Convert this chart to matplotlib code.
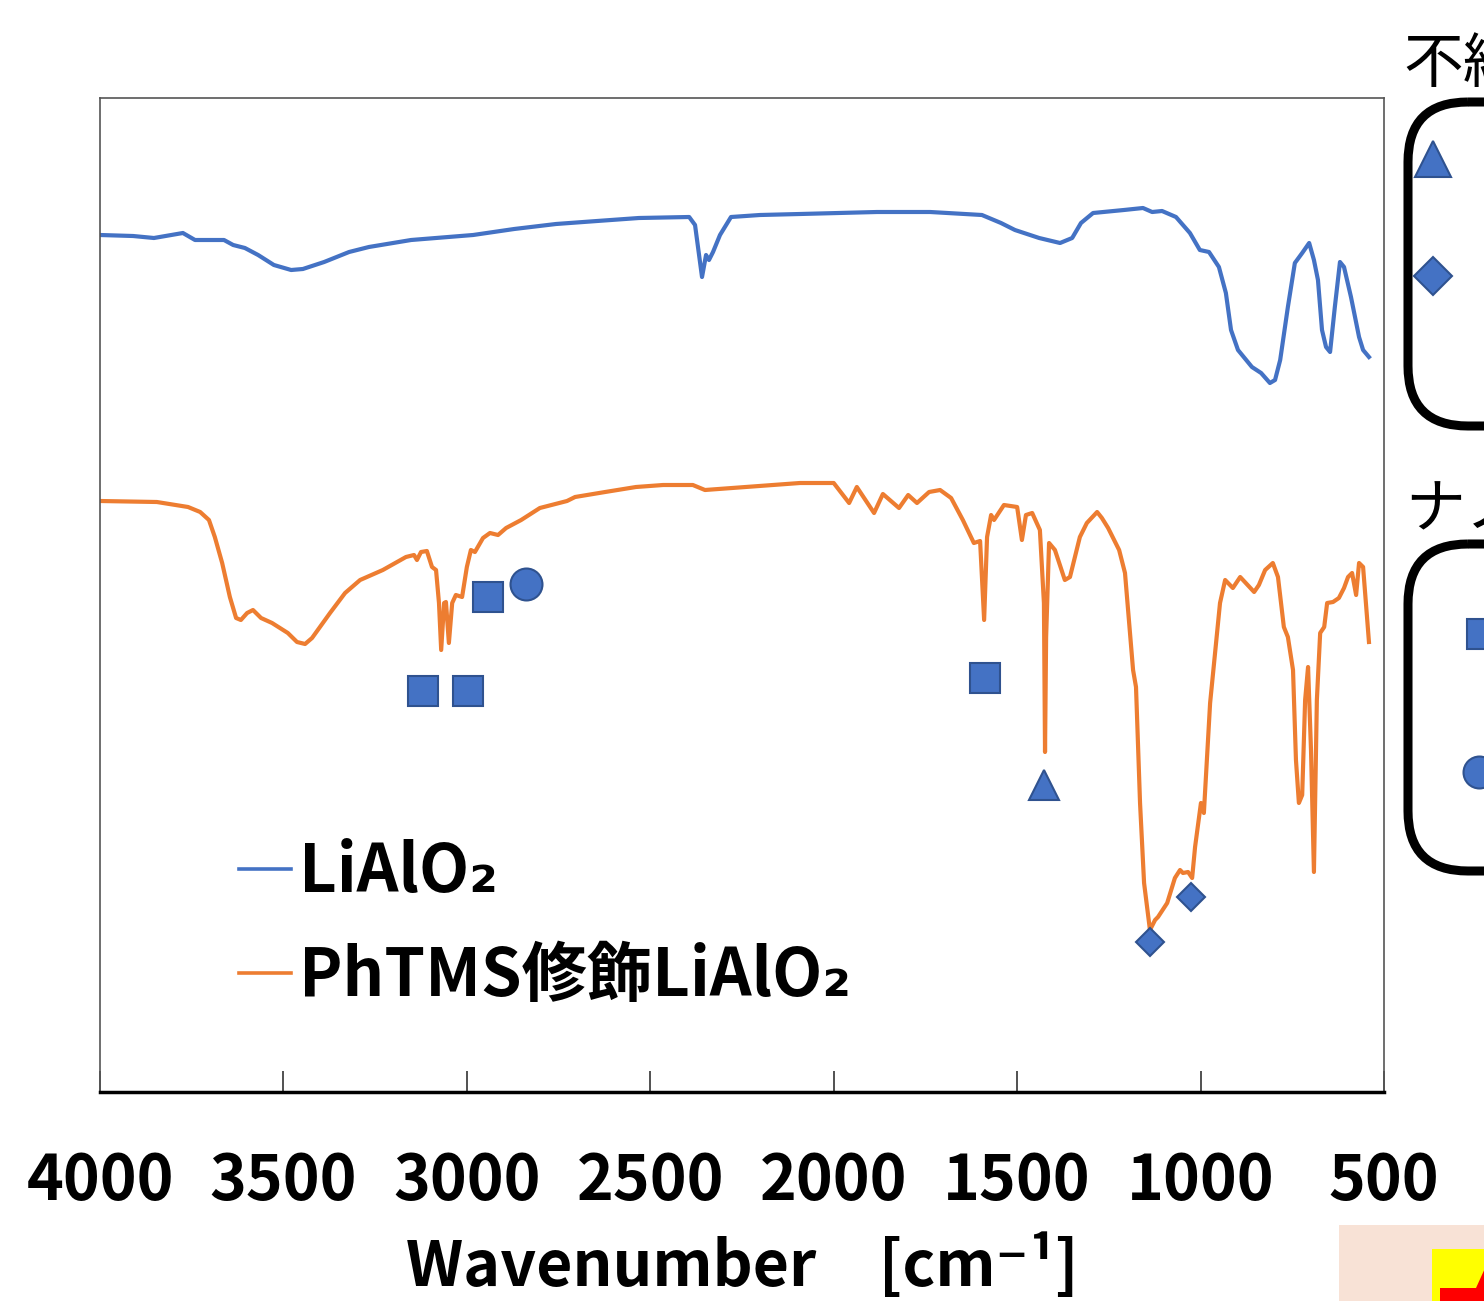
import numpy as np
import matplotlib as mpl
mpl.use('Agg')
import matplotlib.pyplot as plt
from matplotlib.patches import FancyBboxPatch, Rectangle, Polygon

# IR spectra (transmittance in arbitrary units)
blue_wn = [4000, 3910, 3853, 3774, 3741, 3662, 3637, 3605, 3569, 3526,
           3479, 3447, 3389, 3321, 3267, 3152, 2983, 2871, 2757, 2645,
           2531, 2394, 2378, 2359, 2348, 2340, 2329, 2310, 2280, 2201,
           2092, 1882, 1737, 1596, 1544, 1506, 1440, 1383, 1350, 1326,
           1293, 1209, 1157, 1132, 1105, 1067, 1029, 1002, 977, 950,
           931, 917, 898, 860, 835, 811, 797, 783, 762, 743,
           723, 704, 691, 680, 669, 658, 647, 634, 620, 609,
           590, 568, 557, 541]
blue_t = [857, 856, 854, 859, 852, 852, 847, 844, 837, 827,
          822, 823, 830, 840, 845, 852, 857, 863, 868, 871,
          874, 875, 867, 815, 837, 832, 840, 857, 875, 877,
          878, 880, 880, 877, 869, 862, 854, 849, 854, 869,
          879, 882, 884, 880, 881, 875, 859, 842, 840, 825,
          799, 762, 742, 725, 719, 709, 712, 732, 785, 829,
          839, 849, 832, 812, 762, 745, 740, 785, 830, 825,
          795, 755, 742, 735]

orange_wn = [4000, 3845, 3760, 3727, 3703, 3687, 3667, 3646, 3629, 3616,
             3599, 3583, 3561, 3531, 3488, 3463, 3441, 3422, 3373, 3332,
             3291, 3229, 3166, 3144, 3136, 3125, 3109, 3095, 3084, 3076,
             3070, 3062, 3057, 3049, 3040, 3030, 3013, 3000, 2989, 2978,
             2956, 2937, 2915, 2893, 2852, 2801, 2727, 2705, 2623, 2539,
             2465, 2384, 2351, 2201, 2092, 2000, 1958, 1937, 1890, 1866,
             1822, 1797, 1773, 1740, 1710, 1680, 1648, 1618, 1601, 1590,
             1582, 1571, 1563, 1536, 1500, 1487, 1476, 1459, 1438, 1427,
             1424, 1421, 1413, 1397, 1370, 1356, 1329, 1310, 1282, 1269,
             1252, 1222, 1206, 1184, 1176, 1165, 1154, 1138, 1124, 1116,
             1091, 1070, 1056, 1048, 1034, 1023, 1015, 999, 991, 974,
             947, 933, 912, 892, 854, 841, 824, 803, 789, 773,
             762, 748, 740, 732, 723, 715, 707, 699, 691, 683,
             674, 663, 655, 639, 623, 609, 598, 587, 576, 568,
             557, 541]
orange_t = [591, 590, 585, 580, 572, 555, 529, 495, 474, 472,
            479, 482, 474, 469, 459, 450, 448, 454, 479, 499,
            512, 522, 535, 537, 532, 540, 541, 525, 522, 489,
            442, 489, 490, 449, 489, 497, 495, 525, 542, 540,
            554, 559, 557, 564, 572, 584, 591, 595, 600, 605,
            607, 607, 602, 606, 609, 609, 589, 605, 579, 598,
            584, 597, 589, 600, 602, 594, 572, 549, 551, 472,
            555, 577, 572, 587, 585, 552, 577, 579, 562, 489,
            340, 455, 549, 542, 512, 515, 555, 569, 580, 574,
            564, 542, 519, 422, 405, 289, 209, 162, 172, 175,
            189, 214, 222, 219, 220, 214, 245, 289, 279, 389,
            489, 512, 504, 515, 500, 507, 522, 529, 515, 465,
            455, 422, 332, 289, 297, 392, 425, 342, 220, 392,
            459, 465, 489, 490, 494, 504, 515, 519, 497, 529,
            525, 450]

# peak assignment markers
square_wn = [3120, 2997, 2942, 1588]
square_t = [401, 401, 495, 414]
circle_wn = [2839]
circle_t = [508]
triangle_wn = [1427]
triangle_t = [307]
diamond_wn = [1138, 1026]
diamond_t = [150, 195]

labels = ['LiAlO₂', 'PhTMS修飾LiAlO₂']
xticks = [4000, 3500, 3000, 2500, 2000, 1500, 1000, 500]

BLUE = '#4472C4'
ORANGE = '#ED7D31'
MK_FACE = '#4472C4'
MK_EDGE = '#2F528F'

NARROW = ['Liberation Sans Narrow', 'DejaVu Sans Condensed',
          'Noto Sans CJK JP', 'DejaVu Sans']
CJK = ['Noto Sans CJK JP', 'DejaVu Sans']

fig = plt.figure(figsize=(14.84, 13.01), dpi=100)

# decoration layer in pixel coordinates (cut-off slide parts on the right)
deco = fig.add_axes([0, 0, 1, 1], zorder=0)
deco.set_xlim(0, 1484)
deco.set_ylim(1301, 0)
deco.axis('off')
for top, bottom in [(102, 426), (544, 871)]:
    deco.add_patch(FancyBboxPatch((1408, top), 400, bottom - top,
                                  boxstyle='round,pad=0,rounding_size=60',
                                  fill=False, ec='black', lw=6.5))
deco.text(1403, 82, '不純物', fontsize=43, family=CJK, va='baseline', ha='left')
deco.text(1405, 527, 'ナノ', fontsize=43, family=CJK, va='baseline', ha='left')
mk = dict(color=MK_FACE, mec=MK_EDGE, mew=1.5, ls='none')
deco.plot([1433], [159], marker='^', ms=26, **mk)
deco.plot([1433], [276], marker='D', ms=19, **mk)
deco.plot([1482], [634], marker='s', ms=21, **mk)
deco.plot([1479], [772], marker='o', ms=23, **mk)
deco.add_patch(Rectangle((1339, 1225), 200, 100, color='#F8E2D6', lw=0))
deco.add_patch(Rectangle((1432, 1249), 100, 100, color='#FFFF00', lw=0))
deco.add_patch(Polygon([(1440, 1301), (1440, 1288), (1476, 1288),
                        (1486, 1266), (1486, 1301)], closed=True,
                       color='#FF0000', lw=0))

ax = fig.add_axes([100 / 1484, 1 - 1092 / 1301, 1284 / 1484, 994 / 1301],
                  zorder=1)
ax.patch.set_alpha(0)
ax.plot(blue_wn, blue_t, color=BLUE, lw=3.0, label=labels[0])
ax.plot(orange_wn, orange_t, color=ORANGE, lw=3.0, label=labels[1])

ax.plot(square_wn, square_t, marker='s', ms=22, **mk)
ax.plot(circle_wn, circle_t, marker='o', ms=23, **mk)
ax.plot(triangle_wn, triangle_t, marker='^', ms=22, **mk)
ax.plot(diamond_wn, diamond_t, marker='D', ms=14.5, **mk)

ax.set_xlim(4000, 500)
ax.set_ylim(0, 994)
ax.set_yticks([])
ax.set_xticks(xticks)
ax.set_xticklabels([str(t) for t in xticks], fontsize=45, family=NARROW,
                   fontweight='bold')
ax.tick_params(axis='x', direction='in', length=15, width=1.2, pad=42,
               color='#333333')
for side in ['top', 'left', 'right']:
    ax.spines[side].set_color('#555555')
    ax.spines[side].set_linewidth(1.2)
ax.spines['bottom'].set_color('black')
ax.spines['bottom'].set_linewidth(2.5)

ax.set_xlabel('Wavenumber　[cm⁻¹]', fontsize=45, family=NARROW,
              fontweight='bold', va='center')
ax.xaxis.set_label_coords(0.5, -0.175)

leg = ax.legend(loc='upper left', bbox_to_anchor=(0.088, 0.281),
                frameon=False, handlelength=0.8, handletextpad=0.12,
                labelspacing=0.57, borderaxespad=0,
                prop={'family': CJK, 'weight': 'bold', 'size': 47})
for line in leg.get_lines():
    line.set_linewidth(2.6)

fig.savefig('out.png', dpi=100)
plt.close()
